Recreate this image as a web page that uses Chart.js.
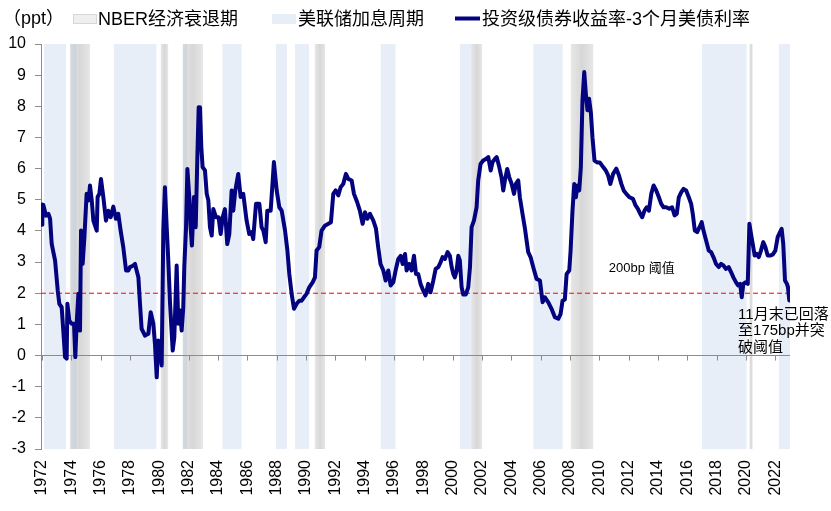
<!DOCTYPE html>
<html>
<head>
<meta charset="utf-8">
<script src="https://cdn.jsdelivr.net/npm/chart.js@4.4.1/dist/chart.umd.min.js"></script>
<style>
  html, body { margin: 0; padding: 0; background: #fff; }
</style>
</head>
<body>
<canvas id="chart" width="831" height="511"></canvas>
<script>
// dates as decimal years (ppt)
const dates = [
  1972.00, 1972.02, 1972.09, 1972.27, 1972.43, 1972.55, 1972.66, 1972.89, 1973.07, 1973.18,
  1973.34, 1973.45, 1973.57, 1973.68, 1973.73, 1973.86, 1974.02, 1974.18, 1974.27, 1974.36,
  1974.48, 1974.59, 1974.66, 1974.77, 1974.89, 1975.04, 1975.18, 1975.27, 1975.39, 1975.50,
  1975.73, 1975.79, 1975.91, 1976.02, 1976.18, 1976.36, 1976.52, 1976.68, 1976.86, 1977.04,
  1977.20, 1977.36, 1977.54, 1977.73, 1977.88, 1978.00, 1978.23, 1978.34, 1978.45, 1978.57,
  1978.68, 1978.79, 1979.02, 1979.25, 1979.41, 1979.59, 1979.70, 1979.82, 1979.93, 1980.04,
  1980.16, 1980.27, 1980.38, 1980.50, 1980.61, 1980.73, 1980.91, 1981.02, 1981.18, 1981.29,
  1981.41, 1981.52, 1981.63, 1981.70, 1981.82, 1981.91, 1982.04, 1982.13, 1982.22, 1982.36,
  1982.48, 1982.59, 1982.68, 1982.77, 1982.86, 1982.95, 1983.11, 1983.23, 1983.34, 1983.45,
  1983.57, 1983.68, 1983.86, 1984.04, 1984.18, 1984.32, 1984.47, 1984.63, 1984.77, 1984.93,
  1985.04, 1985.18, 1985.38, 1985.54, 1985.72, 1985.95, 1986.13, 1986.29, 1986.40, 1986.59,
  1986.82, 1986.97, 1987.09, 1987.25, 1987.36, 1987.59, 1987.73, 1987.81, 1988.00, 1988.18,
  1988.34, 1988.57, 1988.73, 1988.86, 1989.02, 1989.18, 1989.36, 1989.54, 1989.70, 1989.86,
  1990.04, 1990.22, 1990.45, 1990.61, 1990.72, 1990.90, 1991.06, 1991.29, 1991.52, 1991.70,
  1991.86, 1992.02, 1992.20, 1992.36, 1992.54, 1992.72, 1992.88, 1993.11, 1993.27, 1993.49,
  1993.67, 1993.86, 1994.02, 1994.18, 1994.36, 1994.59, 1994.77, 1994.92, 1995.08, 1995.27,
  1995.43, 1995.61, 1995.77, 1995.95, 1996.13, 1996.29, 1996.45, 1996.59, 1996.75, 1996.86,
  1997.04, 1997.20, 1997.36, 1997.50, 1997.65, 1997.81, 1997.99, 1998.15, 1998.33, 1998.49,
  1998.68, 1998.84, 1999.02, 1999.18, 1999.31, 1999.47, 1999.65, 1999.81, 1999.93, 2000.04,
  2000.15, 2000.27, 2000.38, 2000.49, 2000.61, 2000.72, 2000.90, 2001.06, 2001.18, 2001.29,
  2001.45, 2001.63, 2001.74, 2001.90, 2002.08, 2002.27, 2002.43, 2002.59, 2002.72, 2002.88,
  2003.00, 2003.18, 2003.33, 2003.45, 2003.56, 2003.72, 2003.86, 2004.02, 2004.18, 2004.31,
  2004.47, 2004.58, 2004.76, 2004.92, 2005.15, 2005.31, 2005.49, 2005.72, 2005.95, 2006.13,
  2006.29, 2006.52, 2006.74, 2006.97, 2007.20, 2007.36, 2007.49, 2007.65, 2007.77, 2007.95,
  2008.04, 2008.17, 2008.29, 2008.40, 2008.51, 2008.63, 2008.74, 2008.85, 2008.97, 2009.08,
  2009.19, 2009.30, 2009.42, 2009.53, 2009.67, 2009.85, 2010.03, 2010.26, 2010.44, 2010.60,
  2010.75, 2010.94, 2011.16, 2011.34, 2011.50, 2011.66, 2011.84, 2012.06, 2012.29, 2012.47,
  2012.63, 2012.79, 2012.92, 2013.08, 2013.24, 2013.38, 2013.54, 2013.70, 2013.88, 2014.06,
  2014.22, 2014.38, 2014.56, 2014.78, 2014.96, 2015.13, 2015.28, 2015.42, 2015.58, 2015.74,
  2015.92, 2016.10, 2016.26, 2016.37, 2016.51, 2016.67, 2016.83, 2016.98, 2017.10, 2017.28,
  2017.46, 2017.62, 2017.78, 2017.96, 2018.14, 2018.30, 2018.46, 2018.64, 2018.82, 2018.98,
  2019.14, 2019.32, 2019.46, 2019.60, 2019.71, 2019.82, 2019.96, 2020.12, 2020.23, 2020.34,
  2020.46, 2020.59, 2020.73, 2020.87, 2021.02, 2021.18, 2021.32, 2021.48, 2021.64, 2021.82,
  2022.00, 2022.16, 2022.32, 2022.43, 2022.54, 2022.66, 2022.79, 2022.86, 2022.95
];
const spread = [
  4.20, 4.85, 4.83, 4.49, 4.55, 4.39, 3.58, 3.05, 2.09, 1.66,
  1.55, 0.80, -0.05, -0.10, 1.66, 1.12, 1.02, 1.02, -0.05, 1.02,
  1.98, 0.80, 4.01, 2.94, 3.80, 5.19, 4.98, 5.46, 4.98, 4.33,
  4.01, 5.09, 5.19, 5.67, 5.09, 4.33, 4.65, 4.44, 4.78, 4.39,
  4.55, 4.01, 3.48, 2.73, 2.73, 2.84, 2.89, 2.94, 2.73, 2.51,
  1.66, 0.86, 0.64, 0.70, 1.39, 1.02, 0.37, -0.70, 0.48, 0.27,
  -0.32, 4.01, 5.40, 4.12, 3.05, 1.66, 0.16, 0.59, 2.89, 1.02,
  1.45, 0.80, 1.55, 2.84, 4.12, 5.99, 5.09, 4.12, 3.53, 5.09,
  4.12, 6.37, 7.97, 7.97, 6.69, 6.05, 5.94, 5.19, 4.98, 4.12,
  3.85, 4.70, 4.44, 4.44, 3.90, 4.44, 4.70, 3.58, 3.90, 5.30,
  4.65, 5.30, 5.83, 5.09, 5.19, 4.33, 3.90, 3.96, 3.74, 4.87,
  4.87, 4.12, 4.01, 3.64, 4.65, 4.65, 5.62, 6.21, 5.30, 4.76,
  4.65, 4.01, 3.37, 2.62, 1.98, 1.50, 1.66, 1.76, 1.76, 1.87,
  1.98, 2.19, 2.35, 2.51, 3.37, 3.48, 4.01, 4.17, 4.23, 4.28,
  5.19, 5.30, 5.14, 5.40, 5.51, 5.83, 5.67, 5.62, 5.19, 4.92,
  4.65, 4.23, 4.60, 4.39, 4.55, 4.33, 4.07, 3.48, 2.94, 2.73,
  2.41, 2.73, 2.25, 2.35, 2.78, 3.10, 3.20, 2.94, 3.26, 2.73,
  2.94, 2.73, 3.20, 2.62, 2.62, 2.30, 2.09, 1.93, 2.30, 2.03,
  2.41, 2.78, 2.84, 3.00, 3.16, 3.10, 3.32, 3.20, 2.84, 2.62,
  2.51, 2.73, 3.20, 3.05, 2.19, 1.96, 1.96, 2.19, 2.84, 4.12,
  4.33, 4.76, 5.62, 6.15, 6.26, 6.31, 6.37, 5.94, 6.21, 6.31,
  6.37, 6.04, 5.72, 5.30, 5.62, 5.99, 5.72, 5.51, 5.19, 5.51,
  5.62, 5.08, 4.55, 4.10, 3.32, 3.16, 2.84, 2.46, 2.41, 1.71,
  1.87, 1.71, 1.50, 1.23, 1.18, 1.34, 1.76, 1.80, 2.62, 2.73,
  3.37, 4.65, 5.51, 5.08, 5.46, 5.30, 6.05, 8.19, 9.10, 8.40,
  7.87, 8.24, 7.81, 7.01, 6.26, 6.20, 6.20, 6.05, 5.94, 5.78,
  5.51, 5.83, 6.00, 5.78, 5.51, 5.30, 5.19, 5.08, 5.03, 4.82,
  4.71, 4.55, 4.44, 4.65, 4.76, 4.65, 5.19, 5.46, 5.30, 5.08,
  4.87, 4.76, 4.76, 4.71, 4.76, 4.50, 4.55, 5.08, 5.24, 5.35,
  5.30, 5.08, 4.87, 4.55, 4.01, 3.96, 4.12, 4.28, 4.01, 3.69,
  3.37, 3.32, 3.16, 2.94, 2.84, 2.94, 2.89, 2.78, 2.84, 2.68,
  2.51, 2.35, 2.25, 2.30, 1.87, 2.30, 2.35, 2.30, 4.23, 3.91,
  3.58, 3.21, 3.26, 3.16, 3.37, 3.64, 3.48, 3.21, 3.21, 3.24,
  3.37, 3.80, 3.96, 4.07, 3.58, 2.41, 2.30, 2.20, 1.77
];
const tickYears = [1972, 1974, 1976, 1978, 1980, 1982, 1984, 1986, 1988, 1990, 1992, 1994, 1996,
  1998, 2000, 2002, 2004, 2006, 2008, 2010, 2012, 2014, 2016, 2018, 2020, 2022];
const recessions = [[1973.90, 1975.27], [1980.10, 1980.60], [1981.60, 1982.97], [1990.60, 1991.30],
  [2001.30, 2002.00], [2008.06, 2009.58], [2020.24, 2020.45]];
const hikes = [[1972.14, 1973.64], [1973.95, 1974.35], [1976.90, 1979.80], [1981.60, 1981.90],
  [1984.30, 1985.60], [1987.95, 1988.70], [1989.25, 1990.20], [1995.10, 1996.10], [2000.50, 2001.33],
  [2005.50, 2007.50], [2017.00, 2020.04], [2022.24, 2023.00]];
const threshold = 2;
const xMin = 1971.93, xMax = 2023.0;

const FONT = '"Liberation Sans", Arial, "Noto Sans CJK SC", sans-serif';
Chart.defaults.font.family = FONT;
Chart.defaults.color = '#000';

const AXIS = '#8c8c8c';
const NAVY = '#03037f';
const HIKE = '#e7eef7';

const bands = {
  id: 'bands',
  beforeDraw(chart) {
    const { ctx, chartArea: a, scales: { x } } = chart;
    ctx.save();
    ctx.beginPath();
    ctx.rect(a.left, a.top, a.right - a.left, a.bottom - a.top);
    ctx.clip();
    ctx.fillStyle = HIKE;
    hikes.forEach(([s, e]) => {
      const x0 = x.getPixelForValue(s), x1 = x.getPixelForValue(e);
      ctx.fillRect(x0, a.top, x1 - x0, a.bottom - a.top);
    });
    recessions.forEach(([s, e]) => {
      const x0 = x.getPixelForValue(s), x1 = x.getPixelForValue(e);
      const g = ctx.createLinearGradient(x0, 0, x1, 0);
      g.addColorStop(0, 'rgba(160,160,160,0.26)');
      g.addColorStop(0.5, 'rgba(150,150,150,0.38)');
      g.addColorStop(1, 'rgba(160,160,160,0.26)');
      ctx.fillStyle = g;
      ctx.fillRect(x0, a.top, x1 - x0, a.bottom - a.top);
    });
    ctx.restore();
  },
  beforeDatasetsDraw(chart) {
    // small tick marks hanging under the zero line
    const { ctx, scales: { x, y } } = chart;
    const y0 = y.getPixelForValue(0);
    ctx.save();
    ctx.strokeStyle = AXIS;
    ctx.lineWidth = 1;
    tickYears.forEach(v => {
      const px = Math.round(x.getPixelForValue(v)) + 0.5;
      ctx.beginPath();
      ctx.moveTo(px, y0);
      ctx.lineTo(px, y0 + 5);
      ctx.stroke();
    });
    ctx.restore();
  },
  afterDraw(chart) {
    const { ctx, scales: { x, y } } = chart;
    ctx.save();
    ctx.fillStyle = '#000';
    ctx.textBaseline = 'middle';
    ctx.textAlign = 'left';

    // legend row
    ctx.font = '18px ' + FONT;
    ctx.fillText('（ppt）', 3, 19);
    ctx.fillStyle = '#efefef';
    ctx.fillRect(73, 14, 24, 10);
    ctx.strokeStyle = '#d6d6d6';
    ctx.strokeRect(73.5, 14.5, 23, 9);
    ctx.fillStyle = '#000';
    ctx.fillText('NBER经济衰退期', 98, 20);
    ctx.fillStyle = HIKE;
    ctx.fillRect(272, 14, 24, 10);
    ctx.fillStyle = '#000';
    ctx.fillText('美联储加息周期', 298, 20);
    ctx.strokeStyle = NAVY;
    ctx.lineWidth = 4;
    ctx.beginPath();
    ctx.moveTo(455, 18.5);
    ctx.lineTo(480, 18.5);
    ctx.stroke();
    ctx.fillText('投资级债券收益率-3个月美债利率', 482, 20);

    // notes placed by data value
    ctx.font = '13px ' + FONT;
    ctx.fillText('200bp 阈值', x.getPixelForValue(2010.65), y.getPixelForValue(2.81));
    ctx.font = '15px ' + FONT;
    const nx = x.getPixelForValue(2019.46);
    ctx.fillText('11月末已回落', nx, y.getPixelForValue(1.32));
    ctx.fillText('至175bp并突', nx, y.getPixelForValue(0.78));
    ctx.fillText('破阈值', nx, y.getPixelForValue(0.25));
    ctx.restore();
  }
};

new Chart(document.getElementById('chart').getContext('2d'), {
  type: 'line',
  data: {
    datasets: [
      {
        label: '投资级债券收益率-3个月美债利率',
        data: dates.map((d, i) => ({ x: d, y: spread[i] })),
        borderColor: NAVY,
        borderWidth: 4,
        borderJoinStyle: 'round',
        borderCapStyle: 'round',
        pointRadius: 0,
        tension: 0
      },
      {
        label: '200bp',
        data: [{ x: xMin, y: threshold }, { x: xMax, y: threshold }],
        borderColor: '#ff0000',
        borderWidth: 1,
        borderDash: [5, 3],
        pointRadius: 0
      }
    ]
  },
  options: {
    responsive: false,
    animation: false,
    layout: { padding: { top: 44, right: 41, left: 0, bottom: 0 } },
    plugins: { legend: { display: false }, tooltip: { enabled: false } },
    scales: {
      x: {
        type: 'linear',
        min: xMin,
        max: xMax,
        grid: { display: false, drawTicks: false },
        border: { display: false },
        afterBuildTicks: s => { s.ticks = tickYears.map(v => ({ value: v })); },
        afterFit: s => { s.height = 62; },
        ticks: {
          autoSkip: false,
          minRotation: 90,
          maxRotation: 90,
          padding: 11,
          font: { size: 16 },
          callback: v => String(v)
        }
      },
      y: {
        min: -3,
        max: 10,
        afterFit: s => { s.width = 41; },
        grid: {
          color: c => (c.tick && c.tick.value === 0 ? AXIS : 'rgba(0,0,0,0)'),
          tickColor: AXIS,
          tickLength: 6,
          lineWidth: 1
        },
        border: { display: true, color: AXIS },
        ticks: { stepSize: 1, padding: 9, font: { size: 16 } }
      }
    }
  },
  plugins: [bands]
});
</script>
</body>
</html>
